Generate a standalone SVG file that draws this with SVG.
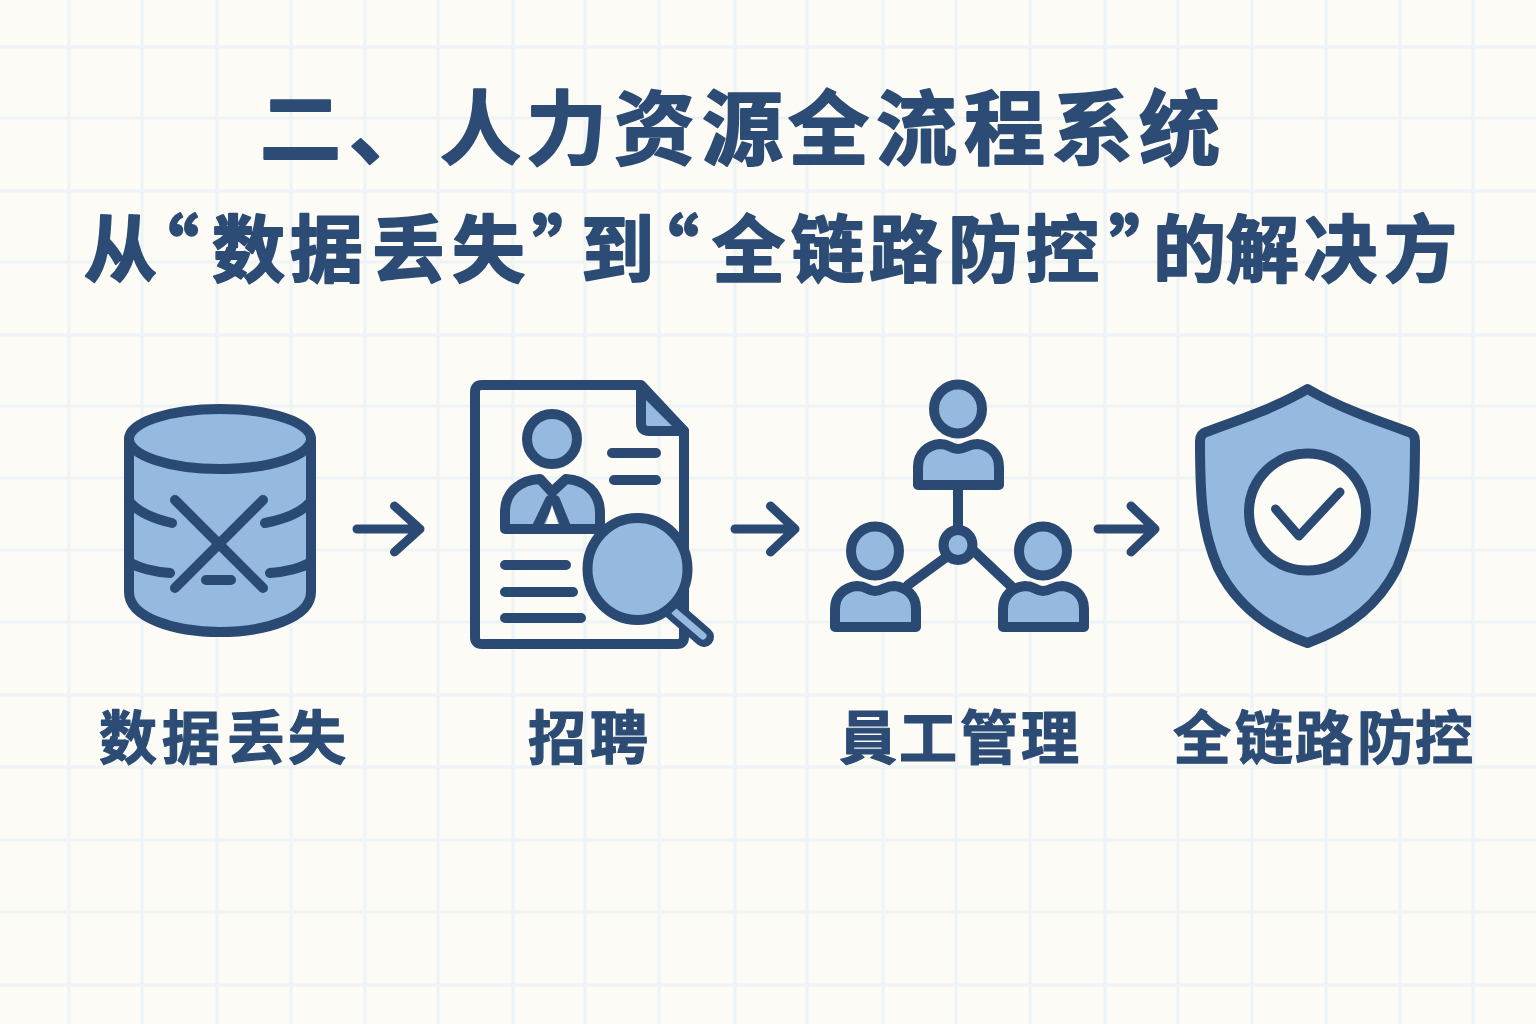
<svg xmlns="http://www.w3.org/2000/svg" width="1536" height="1024" viewBox="0 0 1536 1024">
<defs>
<style>
.grid line{stroke:#eef3f6;stroke-width:3}
.i{stroke:#2a4a74;stroke-width:10;stroke-linecap:round;stroke-linejoin:round;fill:none}
.f{fill:#96b9e0}
.w{fill:#fdfbf5}
.c{stroke:#2a4a74;stroke-width:9;stroke-linecap:round;stroke-linejoin:round;fill:none}
text{font-family:"Noto Sans CJK SC","Noto Sans CJK TC",sans-serif;font-weight:700;fill:#2c4c75;stroke:#2c4c75;stroke-linejoin:round}
.t1{font-size:81px;stroke-width:2}
.t2{font-size:73px;stroke-width:2}
.t3{font-size:58px;stroke-width:1.2}
</style>
<g id="person"><ellipse class="i f" cx="0" cy="0" rx="24" ry="24.500"/><path class="i f" d="M-40,76 V58 C-40,44 -30,36 -18,35 C-8,35 -8,40 0,40 C8,40 10,35 19,35 C31,36 41,44 41,58 V76 Z"/></g>
</defs>
<rect width="1536" height="1024" fill="#fdfbf5"/>
<g id="grid" class="grid">
<line x1="69" y1="0" x2="69" y2="1024"/><line x1="142" y1="0" x2="142" y2="1024"/><line x1="217" y1="0" x2="217" y2="1024"/><line x1="291" y1="0" x2="291" y2="1024"/><line x1="365" y1="0" x2="365" y2="1024"/><line x1="438" y1="0" x2="438" y2="1024"/><line x1="513" y1="0" x2="513" y2="1024"/><line x1="585" y1="0" x2="585" y2="1024"/><line x1="659" y1="0" x2="659" y2="1024"/><line x1="735" y1="0" x2="735" y2="1024"/><line x1="807" y1="0" x2="807" y2="1024"/><line x1="883" y1="0" x2="883" y2="1024"/><line x1="956" y1="0" x2="956" y2="1024"/><line x1="1030" y1="0" x2="1030" y2="1024"/><line x1="1105" y1="0" x2="1105" y2="1024"/><line x1="1178" y1="0" x2="1178" y2="1024"/><line x1="1252" y1="0" x2="1252" y2="1024"/><line x1="1326" y1="0" x2="1326" y2="1024"/><line x1="1400" y1="0" x2="1400" y2="1024"/><line x1="1473" y1="0" x2="1473" y2="1024"/>
<line x1="0" y1="47" x2="1536" y2="47"/><line x1="0" y1="118" x2="1536" y2="118"/><line x1="0" y1="191" x2="1536" y2="191"/><line x1="0" y1="262" x2="1536" y2="262"/><line x1="0" y1="335" x2="1536" y2="335"/><line x1="0" y1="406" x2="1536" y2="406"/><line x1="0" y1="478" x2="1536" y2="478"/><line x1="0" y1="550" x2="1536" y2="550"/><line x1="0" y1="622" x2="1536" y2="622"/><line x1="0" y1="695" x2="1536" y2="695"/><line x1="0" y1="767" x2="1536" y2="767"/><line x1="0" y1="840" x2="1536" y2="840"/><line x1="0" y1="912" x2="1536" y2="912"/><line x1="0" y1="985" x2="1536" y2="985"/>
</g>
<g id="titles">
<text class="t1" x="260 349 440 526 614 702 788 876 964 1052 1139" y="158">二、人力资源全流程系统</text>
<text class="t2" x="84 126 212 290 372 452 532 581 626 712 791 869 948 1026 1109 1153 1226 1304 1384" y="276">从“数据丢失”到“全链路防控”的解决方</text>
</g>
<g id="connectors">
<path class="c" d="M357,529 H420 M394.500,506 L420,529 L394.500,552"/>
<path class="c" d="M735,529 H795 M770.500,506 L795,529 L770.500,552"/>
<path class="c" d="M1098,529 H1154 M1131,506 L1155,529 L1131,552"/>
</g>
<g id="node-data-loss">
<path class="i f" d="M129,439 V592 C129,618 175,632 220,632 C265,632 311,618 311,592 V439 Z"/>
<ellipse class="i f" cx="220" cy="439" rx="91" ry="30"/>
<path class="i" d="M129,501 C138,513 155,519 172,523 M311,501 C302,513 285,519 265,523 M129,562 C138,568 155,572 170,573 M311,562 C302,568 285,572 270,573 M175,500 L263,588 M263,500 L175,588 M206,580 H231"/>
<text class="t3" x="99 162 227 288" y="759">数据丢失</text>
</g>
<g id="node-recruit">
<path class="i" fill="#fdfbf5" fill-opacity="0.6" d="M475,392 Q475,385 482,385 H641 L684,431 V637 Q684,644 677,644 H482 Q475,644 475,637 Z"/>
<path class="i f" d="M641,388 V423 Q641,431 649,431 H684 Z"/>
<ellipse class="i f" cx="552" cy="439" rx="25" ry="25"/>
<path class="i f" d="M505,529 V512 C505,492 520,480 540,479 L552,492 L566,479 C585,480 600,492 600,513 V529 Z"/>
<path class="i" d="M550,500 L537,527 M555,500 L566,527"/>
<path d="M546,524 L552,505 L558,524 Z" fill="#fdfbf5"/>
<path class="i" d="M612,453 H656 M614,480 H656 M505,565 H566 M505,592 H573 M505,618 H581"/>
<path d="M673,610 L704,637" stroke="#2a4a74" stroke-width="20" stroke-linecap="round" fill="none"/>
<path d="M675,612 L703,636" stroke="#96b9e0" stroke-width="7" stroke-linecap="round" fill="none"/>
<ellipse class="i f" cx="637.500" cy="569" rx="50" ry="51"/>
<text class="t3" x="528 590" y="759">招聘</text>
</g>
<g id="node-staff">
<path class="i" d="M958,489 V530 M945,558 L908,585 M975,552 L1012,587"/>
<ellipse class="i f" cx="958" cy="545" rx="14.500" ry="15"/>
<use href="#person" x="958" y="409"/>
<use href="#person" x="875" y="551"/>
<use href="#person" x="1043" y="551"/>
<text class="t3" x="839 899 960 1021" y="759">員工管理</text>
</g>
<g id="node-shield">
<path class="i f" d="M1307.500,389 C1275,408 1240,420 1206,432 Q1200,434 1200,441 C1200,500 1202,530 1218,568 C1235,602 1265,628 1307.500,643 C1350,628 1380,602 1397,568 C1413,530 1415,500 1415,441 Q1415,434 1409,432 C1375,420 1340,408 1307.500,389 Z"/>
<circle class="i w" cx="1307.500" cy="512" r="58.500"/>
<path class="c" d="M1275.500,509 L1299,536 L1340,492"/>
<text class="t3" x="1173 1235 1295 1357 1415" y="759">全链路防控</text>
</g>
</svg>
